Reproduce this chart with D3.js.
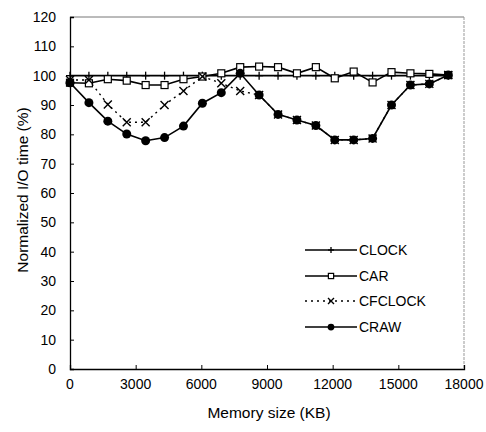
<!DOCTYPE html>
<html>
<head>
<meta charset="utf-8">
<script src="https://cdn.jsdelivr.net/npm/d3@7"></script>
<style>
  body { margin: 0; background: #fff; }
  svg text { font-family: "Liberation Sans", Arial, sans-serif; fill: #000; }
</style>
</head>
<body>
<svg id="chart" width="486" height="432"></svg>
<script>
// Memory sizes (KB) where each run was measured
const memSizes = [0, 864, 1728, 2592, 3456, 4320, 5184, 6048, 6912, 7776, 8640,
                  9504, 10368, 11232, 12096, 12960, 13824, 14688, 15552, 16416, 17280];

// Normalized I/O time (%) per policy
const clockVals = [100, 100, 100, 100, 100, 100, 100, 100, 100, 100, 100,
                   100, 100, 100, 100, 100, 100, 100, 100, 100, 100];
const carVals = [97.6, 97.4, 98.8, 98.3, 96.8, 96.8, 98.8, 99.7, 100.8, 102.9, 103.1,
                 102.9, 100.8, 102.9, 99.1, 101.4, 97.7, 101.2, 100.8, 100.6, 100.2];
const cfclockVals = [98.5, 98.5, 90.2, 84.1, 84.1, 90.0, 94.8, 99.7, 97.4, 94.8, 93.4,
                     86.8, 84.9, 83.0, 78.1, 78.1, 78.6, 90.0, 96.8, 97.2, 100.2];
const crawVals = [97.6, 90.8, 84.5, 80.1, 77.8, 78.9, 82.8, 90.6, 94.2, 100.8, 93.4,
                  86.8, 84.9, 83.0, 78.1, 78.1, 78.6, 90.0, 96.8, 97.2, 100.2];

const seriesNames = ["CLOCK", "CAR", "CFCLOCK", "CRAW"];
const seriesVals = [clockVals, carVals, cfclockVals, crawVals];

const xTicks = [0, 3000, 6000, 9000, 12000, 15000, 18000];
const yTicks = [0, 10, 20, 30, 40, 50, 60, 70, 80, 90, 100, 110, 120];

const svg = d3.select("#chart");

const x = d3.scaleLinear().domain([0, 18000]).range([70, 464]);
const y = d3.scaleLinear().domain([0, 120]).range([369, 17]);

// frame: top and right are faint in the scan
svg.append("line").attr("x1", 70).attr("x2", 464).attr("y1", 17).attr("y2", 17)
    .attr("stroke", "#777").attr("stroke-width", 1);
svg.append("line").attr("x1", 464).attr("x2", 464).attr("y1", 17).attr("y2", 369)
    .attr("stroke", "#999").attr("stroke-width", 1).attr("stroke-dasharray", "3,1");

// axes with inward ticks
const yAxis = svg.append("g").attr("transform", "translate(70,0)")
    .call(d3.axisRight(y).tickValues(yTicks).tickSize(4).tickFormat(""));
yAxis.select(".domain").attr("stroke-width", 1.3);
yAxis.selectAll("text").remove();

const xAxis = svg.append("g").attr("transform", "translate(0,369)")
    .call(d3.axisTop(x).tickValues(xTicks).tickSize(4).tickFormat(""));
xAxis.select(".domain").attr("stroke-width", 1.3);

svg.selectAll(".ylab").data(yTicks).enter().append("text")
    .attr("x", 56).attr("y", d => y(d))
    .attr("text-anchor", "end").attr("dominant-baseline", "central")
    .attr("font-size", "14px").text(d => d);

svg.selectAll(".xlab").data(xTicks).enter().append("text")
    .attr("x", d => x(d)).attr("y", 384)
    .attr("text-anchor", "middle").attr("dominant-baseline", "central")
    .attr("font-size", "14px").text(d => d);

svg.append("text").attr("x", 269).attr("y", 412)
    .attr("text-anchor", "middle").attr("dominant-baseline", "central")
    .attr("font-size", "15.5px").text("Memory size (KB)");

svg.append("text").attr("transform", "translate(22,190) rotate(-90)")
    .attr("text-anchor", "middle").attr("dominant-baseline", "central")
    .attr("font-size", "15.5px").text("Normalized I/O time (%)");

// marker drawers (k scales the marker, legend uses smaller ones)
function drawMarker(g, name, cx, cy, k) {
    if (name === "CLOCK") {
        g.append("line").attr("x1", cx).attr("x2", cx).attr("y1", cy - 4 * k).attr("y2", cy + 4 * k)
            .attr("stroke", "#000").attr("stroke-width", 1.3);
        g.append("line").attr("x1", cx - 4 * k).attr("x2", cx + 4 * k).attr("y1", cy).attr("y2", cy)
            .attr("stroke", "#000").attr("stroke-width", 1.3);
    } else if (name === "CAR") {
        g.append("rect").attr("x", cx - 3.5 * k).attr("y", cy - 3.5 * k)
            .attr("width", 7 * k).attr("height", 7 * k)
            .attr("fill", "#fff").attr("stroke", "#000").attr("stroke-width", 1.2);
    } else if (name === "CFCLOCK") {
        const s = 4 * k;
        g.append("path").attr("d", `M${cx - s},${cy - s}L${cx + s},${cy + s}M${cx - s},${cy + s}L${cx + s},${cy - s}`)
            .attr("stroke", "#000").attr("stroke-width", 1.4);
    } else {
        g.append("circle").attr("cx", cx).attr("cy", cy).attr("r", 4.5 * k).attr("fill", "#000");
    }
}

const line = d3.line().x(d => x(d[0])).y(d => y(d[1]));

seriesNames.forEach((name, si) => {
    const pts = memSizes.map((m, i) => [m, seriesVals[si][i]]);
    const g = svg.append("g");
    g.append("path").datum(pts).attr("d", line)
        .attr("fill", "none").attr("stroke", "#000")
        .attr("stroke-width", name === "CFCLOCK" ? 1.4 : 1.6)
        .attr("stroke-dasharray", name === "CFCLOCK" ? "2,4" : null);
    pts.forEach(p => drawMarker(g, name, x(p[0]), y(p[1]), 1));
});

// legend
const legendY = [250, 276, 301, 327];
seriesNames.forEach((name, i) => {
    const g = svg.append("g");
    g.append("line").attr("x1", 305).attr("x2", 357).attr("y1", legendY[i]).attr("y2", legendY[i])
        .attr("stroke", "#000").attr("stroke-width", name === "CFCLOCK" ? 1.4 : 1.3)
        .attr("stroke-dasharray", name === "CFCLOCK" ? "2,4" : null);
    drawMarker(g, name, 331, legendY[i], 0.75);
    g.append("text").attr("x", 359).attr("y", legendY[i])
        .attr("dominant-baseline", "central").attr("font-size", "14px").text(name);
});
</script>
</body>
</html>
